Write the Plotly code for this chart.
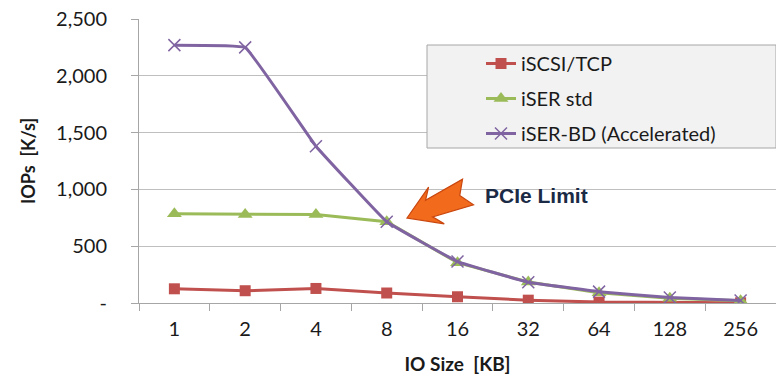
import plotly.graph_objects as go
import math

io_sizes = ["1", "2", "4", "8", "16", "32", "64", "128", "256"]
iscsi_tcp = [125, 108, 128, 88, 55, 25, 8, 4, 2]
iser_std = [785, 780, 780, 715, 355, 185, 90, 42, 20]
iser_bd = [2270, 2250, 1380, 715, 365, 183, 100, 48, 22]
y_tickvals = [0, 500, 1000, 1500, 2000, 2500]
y_ticktext = ["-", "500", "1,000", "1,500", "2,000", "2,500"]

FONT = "Lato"
TXT = "#1a1a1a"
L, R, T, B = 139, 0, 19, 73
W, H = 776, 376
PW, PH = W - L - R, H - T - B

def px(X, Y):
    return (X - L) / PW, (H - B - Y) / PH

fig = go.Figure()
fig.add_trace(go.Scatter(x=io_sizes, y=iscsi_tcp, name="iSCSI/TCP", mode="lines+markers",
                         legendgroup="a",
                         line=dict(color="#c0504d", width=3),
                         marker=dict(symbol="square", size=11, color="#c0504d")))
fig.add_trace(go.Scatter(x=io_sizes, y=iser_std, name="iSER std", mode="lines+markers",
                         legendgroup="b",
                         line=dict(color="#9bbb59", width=3),
                         marker=dict(symbol="triangle-up", size=13, color="#9bbb59")))
fig.add_trace(go.Scatter(x=io_sizes, y=iser_bd, name="iSER-BD (Accelerated)", mode="lines+markers",
                         legendgroup="c",
                         line=dict(color="#8064a2", width=3, shape="spline", smoothing=0.2),
                         marker=dict(symbol="x-thin", size=12, color="#8064a2",
                                     line=dict(color="#8064a2", width=1.5))))

# legend box
x0, y1 = px(427, 45)
x1, y0 = px(776, 148)
fig.add_shape(type="rect", xref="paper", yref="paper", x0=x0, x1=x1, y0=y0, y1=y1,
              fillcolor="#f2f2f2", line=dict(color="#a6a6a6", width=1), layer="above")

# arrow (pixel geometry -> paper)
tip = (407, 218)
tail = (468, 192)
dx, dy = tail[0] - tip[0], tail[1] - tip[1]
ln = math.hypot(dx, dy)
ux, uy = dx / ln, dy / ln
nx, ny = -uy, ux
hl, hw, sw, notch = 24, 20, 9, 9
def P(a, b):
    return (tip[0] + a * ux + b * nx, tip[1] + a * uy + b * ny)
pts = [P(0, 0), P(hl + 8, -hw), P(hl, -sw), P(ln, -sw - 5), P(ln - notch, 0),
       P(ln, sw + 5), P(hl, sw), P(hl + 8, hw)]
path = "M " + " L ".join("%.4f,%.4f" % px(*p) for p in pts) + " Z"
fig.add_shape(type="path", xref="paper", yref="paper", path=path,
              fillcolor="#f26a1b", line=dict(color="#c9470f", width=1.2), layer="above")

fig.add_annotation(text="<b>PCIe Limit</b>", xref="paper", yref="paper",
                   x=px(536, 195)[0], y=px(536, 195)[1], showarrow=False,
                   font=dict(family="Liberation Sans", size=21, color="#1b2a45"))

fig.update_layout(
    width=W, height=H,
    margin=dict(l=L, r=R, t=T, b=B),
    plot_bgcolor="white", paper_bgcolor="white",
    font=dict(family=FONT, size=20, color=TXT),
    showlegend=True,
    legend=dict(x=px(481, 0)[0], y=px(0, 44)[1], xanchor="left", yanchor="top",
                bgcolor="rgba(0,0,0,0)", borderwidth=0,
                traceorder="grouped", tracegroupgap=6,
                font=dict(family=FONT, size=20, color=TXT)),
    xaxis=dict(type="category", showgrid=False, showline=True, linecolor="#a6a6a6",
               ticks="outside", ticklen=7, tickcolor="#a6a6a6", tickson="boundaries",
               tickfont=dict(size=20), range=[-0.5, 8.5], ticklabelstandoff=8,
               title=dict(text="<b>IO Size\u00a0\u00a0[KB]</b>", font=dict(size=19), standoff=18)),
    yaxis=dict(range=[0, 2500], tickvals=y_tickvals, ticktext=y_ticktext,
               showgrid=True, gridcolor="#bfbfbf", gridwidth=1,
               showline=True, linecolor="#a6a6a6", zeroline=False,
               ticks="outside", ticklen=7, tickcolor="#a6a6a6",
               ticklabelstandoff=20, tickfont=dict(size=20),
               title=dict(text="<b>IOPs\u00a0\u00a0[K/s]</b>", font=dict(size=18), standoff=15)),
)

fig.write_html("out.html")
